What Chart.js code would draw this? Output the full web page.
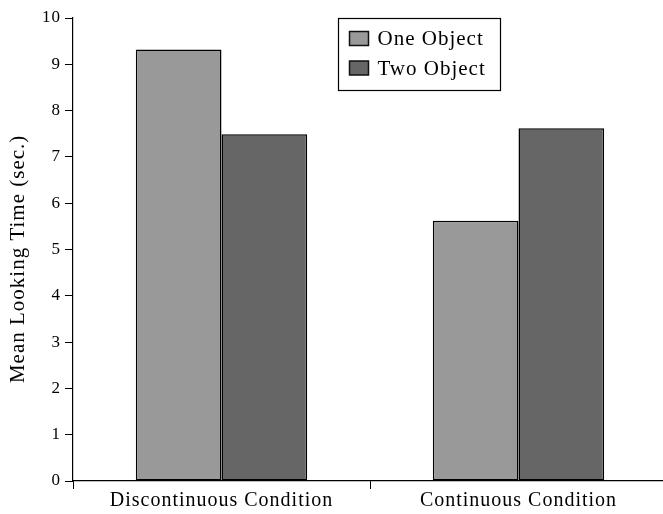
<!DOCTYPE html>
<html><head><meta charset="utf-8">
<script src="https://cdn.jsdelivr.net/npm/chart.js@4"></script>
<style>
html,body{margin:0;padding:0;overflow:hidden;background:#fff;width:663px;height:514px}
#wrap{width:668px;height:514px;position:relative}
</style></head>
<body><div id="wrap"><canvas id="c"></canvas></div>
<script>
const categories = ['Discontinuous Condition', 'Continuous Condition'];
const seriesNames = ['One Object', 'Two Object'];
const oneObject = [9.32, 5.62];
const twoObject = [7.49, 7.62];
const yTickLabels = ['0','1','2','3','4','5','6','7','8','9','10'];
const seriesColors = ['#999999', '#666666'];
const yTitle = 'Mean Looking Time (sec.)\u00a0\u00a0\u00a0';

const FONT = '"Liberation Serif", "Times New Roman", serif';

const spacingPlugin = {
  id: 'spacing',
  beforeUpdate(chart) { chart.ctx.letterSpacing = '1px'; },
  beforeDraw(chart) { chart.ctx.letterSpacing = '1px'; }
};

const legendPlugin = {
  id: 'boxLegend',
  afterDraw(chart) {
    const ctx = chart.ctx;
    const ca = chart.chartArea;
    ctx.save();
    ctx.letterSpacing = '1px';
    const x0 = 338.5, y0 = ca.top + 0.5, w = 162, h = 72;
    ctx.fillStyle = '#fff';
    ctx.fillRect(x0, y0, w, h);
    ctx.strokeStyle = '#000';
    ctx.lineWidth = 1.2;
    ctx.strokeRect(x0, y0, w, h);
    ctx.font = '21px ' + FONT;
    ctx.textBaseline = 'middle';
    chart.data.datasets.forEach((ds, i) => {
      const cy = y0 + 20 + i * 29.5;
      ctx.fillStyle = ds.backgroundColor;
      ctx.fillRect(x0 + 11, cy - 7, 19, 14);
      ctx.strokeStyle = '#111';
      ctx.lineWidth = 1.5;
      ctx.strokeRect(x0 + 11, cy - 7, 19, 14);
      ctx.fillStyle = '#000';
      ctx.fillText(ds.label, x0 + 39, cy + 1);
    });
    ctx.restore();
  }
};

new Chart(document.getElementById('c'), {
  type: 'bar',
  data: {
    labels: categories,
    datasets: [
      { label: seriesNames[0], data: oneObject, backgroundColor: seriesColors[0], borderColor: '#000', borderWidth: 1.5, borderSkipped: false },
      { label: seriesNames[1], data: twoObject, backgroundColor: seriesColors[1], borderColor: '#000', borderWidth: 1.5, borderSkipped: false }
    ]
  },
  options: {
    responsive: true,
    maintainAspectRatio: false,
    animation: false,
    layout: { padding: { top: 18, right: 1, left: 0, bottom: 0 } },
    datasets: { bar: { categoryPercentage: 0.577, barPercentage: 1 } },
    plugins: { legend: { display: false }, tooltip: { enabled: false } },
    scales: {
      x: {
        grid: { display: true, drawOnChartArea: false, drawTicks: true, tickLength: 8, color: '#000' , offset: true },
        border: { display: true, color: '#000', width: 1.2 },
        ticks: { color: '#000', font: { family: FONT, size: 20 }, padding: 0, maxRotation: 0 },
        afterFit: s => { s.height = 33; }
      },
      y: {
        min: 0, max: 10,
        grid: { display: true, drawOnChartArea: false, drawTicks: true, tickLength: 8, color: '#000' },
        border: { display: true, color: '#000', width: 1.2 },
        ticks: { stepSize: 1, color: '#000', font: { family: FONT, size: 17 }, padding: 4,
          callback: (v, i) => yTickLabels[i] },
        title: { display: true, text: yTitle, color: '#000', font: { family: FONT, size: 21 }, padding: { top: 6, bottom: 0 } },
        afterFit: s => { s.width = 73; }
      }
    }
  },
  plugins: [spacingPlugin, legendPlugin]
});
</script>
</body></html>
